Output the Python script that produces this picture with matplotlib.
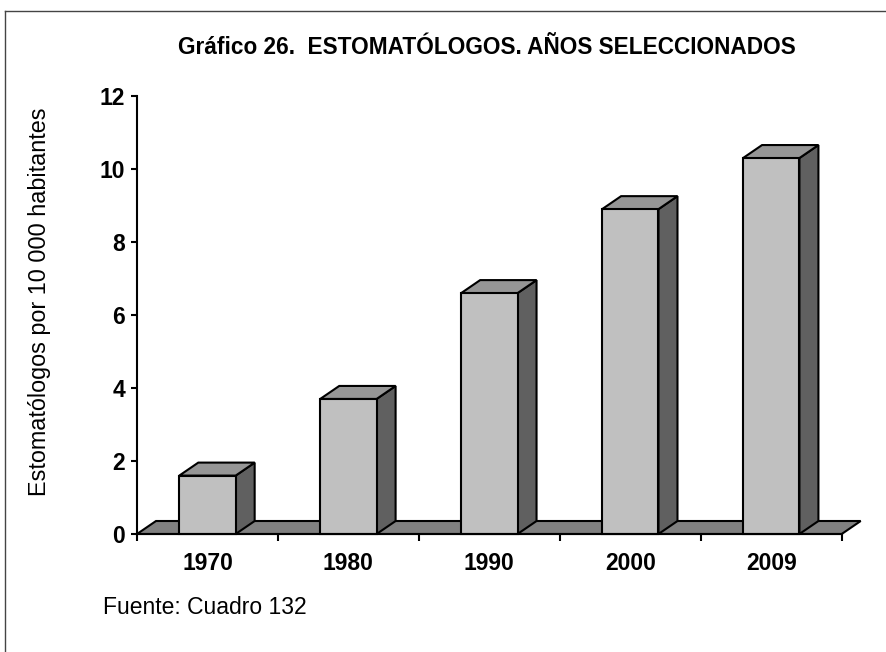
import matplotlib
matplotlib.use('Agg')
import matplotlib.pyplot as plt
from matplotlib.patches import Polygon
from matplotlib.lines import Line2D

years = ['1970', '1980', '1990', '2000', '2009']
values = [1.6, 3.7, 6.6, 8.9, 10.3]
y_ticks = [0, 2, 4, 6, 8, 10, 12]

title = 'Gráfico 26.  ESTOMATÓLOGOS. AÑOS SELECCIONADOS'
y_label = 'Estomatólogos por 10 000 habitantes'
source = 'Fuente: Cuadro 132'

FRONT = '#c0c0c0'
TOP = '#969696'
SIDE = '#606060'
FLOOR = '#808080'

plt.rcParams['font.family'] = ['Liberation Sans', 'DejaVu Sans']

W, H = 886, 652
fig = plt.figure(figsize=(W / 100, H / 100), dpi=100)
ax = fig.add_axes([137 / W, 118 / H, 704.7 / W, 438 / H])
n = len(years)
ax.set_xlim(0, n)
ax.set_ylim(0, 12)

# fake 3d depth, in data units
dx = 19 / 140.9
dy = 13 / 36.5
bar_w = 0.4

def poly(pts, color, z):
    p = Polygon(pts, closed=True, facecolor=color, edgecolor='black',
                linewidth=1.5, joinstyle='miter', clip_on=False, zorder=z)
    ax.add_patch(p)

# floor
poly([(0, 0), (n, 0), (n + dx, dy), (dx, dy)], FLOOR, 1)

for i, v in enumerate(values):
    x0 = i + 0.5 - bar_w / 2
    x1 = x0 + bar_w
    poly([(x1, 0), (x1 + dx, dy), (x1 + dx, v + dy), (x1, v)], SIDE, 2)
    poly([(x0, v), (x1, v), (x1 + dx, v + dy), (x0 + dx, v + dy)], TOP, 2)
    poly([(x0, 0), (x1, 0), (x1, v), (x0, v)], FRONT, 3)

for s in ['top', 'right']:
    ax.spines[s].set_visible(False)
for s in ['left', 'bottom']:
    ax.spines[s].set_linewidth(1.5)
    ax.spines[s].set_zorder(4)

ax.set_yticks(y_ticks)
ax.set_yticklabels([str(t) for t in y_ticks], fontsize=16.5, fontweight='bold')
ax.tick_params(axis='y', length=4.5, width=1.5, pad=4)

ax.set_xticks(range(n + 1))
ax.set_xticklabels([])
ax.tick_params(axis='x', which='major', length=5, width=1.5)
ax.set_xticks([i + 0.5 for i in range(n)], minor=True)
ax.set_xticklabels(years, minor=True, fontsize=16.5, fontweight='bold')
ax.tick_params(axis='x', which='minor', length=0, pad=13)

# outer frame (only top and left edges visible)
fig.add_artist(Line2D([5 / W, 5 / W], [0, 1 - 11 / H], transform=fig.transFigure,
                      color='#444444', linewidth=1))
fig.add_artist(Line2D([5 / W, 1], [1 - 11 / H, 1 - 11 / H], transform=fig.transFigure,
                      color='#444444', linewidth=1))

fig.text(487 / W, 1 - 47 / H, title, ha='center', va='center',
         fontsize=16.3, fontweight='bold')
fig.text(40 / W, 1 - 302 / H, y_label, rotation=90, ha='center', va='center',
         fontsize=16.8)
fig.text(103 / W, 1 - 608 / H, source, ha='left', va='center', fontsize=16.5)

fig.savefig('out.png', dpi=100)
